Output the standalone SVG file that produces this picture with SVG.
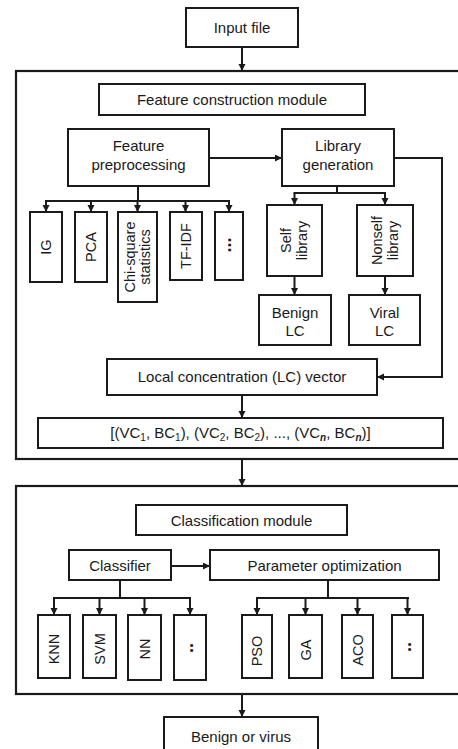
<svg xmlns="http://www.w3.org/2000/svg" width="458" height="749" viewBox="0 0 458 749">
<style>
.b{fill:#fff;stroke:#1a1a1a;stroke-width:2}
.o{fill:none;stroke:#1a1a1a;stroke-width:2.2}
.c{fill:none;stroke:#1a1a1a;stroke-width:2}
text{font-family:"Liberation Sans",Arial,sans-serif;font-size:15px;fill:#1a1a1a;text-anchor:middle}
.r{font-size:14.5px}
.d{font-weight:bold;font-size:18px}
</style>
<defs>
<marker id="ah" markerUnits="userSpaceOnUse" markerWidth="8" markerHeight="8" refX="7" refY="3.5" orient="auto">
<path d="M0,0 L7,3.5 L0,7 z" fill="#1a1a1a"/>
</marker>
</defs>
<rect width="458" height="749" fill="#fff"/>

<g id="module1"><rect class="o" x="16" y="71" width="460" height="388"/></g>
<g id="module2"><rect class="o" x="16" y="486" width="460" height="208"/></g>

<g id="connectors">
<line class="c" x1="242" y1="47" x2="242" y2="71" marker-end="url(#ah)"/>
<line class="c" x1="209" y1="158" x2="282" y2="158" marker-end="url(#ah)"/>
<polyline class="c" points="394,158 442,158 442,377 377,377" marker-end="url(#ah)"/>
<line class="c" x1="138" y1="186" x2="138" y2="201"/>
<line class="c" x1="45" y1="201" x2="230" y2="201"/>
<line class="c" x1="46" y1="201" x2="46" y2="212" marker-end="url(#ah)"/>
<line class="c" x1="91" y1="201" x2="91" y2="212" marker-end="url(#ah)"/>
<line class="c" x1="137.5" y1="201" x2="137.5" y2="212" marker-end="url(#ah)"/>
<line class="c" x1="185.5" y1="201" x2="185.5" y2="212" marker-end="url(#ah)"/>
<line class="c" x1="229" y1="201" x2="229" y2="212" marker-end="url(#ah)"/>
<line class="c" x1="337" y1="186" x2="337" y2="193"/>
<line class="c" x1="293.5" y1="193" x2="386" y2="193"/>
<line class="c" x1="294.5" y1="193" x2="294.5" y2="205" marker-end="url(#ah)"/>
<line class="c" x1="385" y1="193" x2="385" y2="205" marker-end="url(#ah)"/>
<line class="c" x1="294.5" y1="276" x2="294.5" y2="295" marker-end="url(#ah)"/>
<line class="c" x1="385" y1="276" x2="385" y2="295" marker-end="url(#ah)"/>
<line class="c" x1="242" y1="395" x2="242" y2="418" marker-end="url(#ah)"/>
<line class="c" x1="242" y1="459" x2="242" y2="486" marker-end="url(#ah)"/>
<line class="c" x1="171" y1="566" x2="210" y2="566" marker-end="url(#ah)"/>
<line class="c" x1="120" y1="580" x2="120" y2="598"/>
<line class="c" x1="53" y1="598" x2="191" y2="598"/>
<line class="c" x1="54" y1="598" x2="54" y2="615" marker-end="url(#ah)"/>
<line class="c" x1="99.5" y1="598" x2="99.5" y2="615" marker-end="url(#ah)"/>
<line class="c" x1="144.5" y1="598" x2="144.5" y2="615" marker-end="url(#ah)"/>
<line class="c" x1="190" y1="598" x2="190" y2="615" marker-end="url(#ah)"/>
<line class="c" x1="328" y1="580" x2="328" y2="598"/>
<line class="c" x1="256" y1="598" x2="409" y2="598"/>
<line class="c" x1="257" y1="598" x2="257" y2="615" marker-end="url(#ah)"/>
<line class="c" x1="305.5" y1="598" x2="305.5" y2="615" marker-end="url(#ah)"/>
<line class="c" x1="357.5" y1="598" x2="357.5" y2="615" marker-end="url(#ah)"/>
<line class="c" x1="407.5" y1="598" x2="407.5" y2="615" marker-end="url(#ah)"/>
<line class="c" x1="242" y1="694" x2="242" y2="717" marker-end="url(#ah)"/>
</g>

<g id="input"><rect class="b" x="186" y="8" width="112" height="39"/><text x="242" y="33">Input file</text></g>
<g id="fcm"><rect class="b" x="99" y="84" width="266" height="31"/><text x="232" y="105">Feature construction module</text></g>
<g id="fp"><rect class="b" x="68" y="129" width="141" height="57"/><text x="138.5" y="151">Feature</text><text x="138.5" y="170">preprocessing</text></g>
<g id="lg"><rect class="b" x="282" y="129" width="112" height="57"/><text x="338" y="151">Library</text><text x="338" y="170">generation</text></g>

<g id="ig"><rect class="b" x="30" y="212" width="32" height="70"/><text class="r" transform="translate(51,247) rotate(-90)">IG</text></g>
<g id="pca"><rect class="b" x="75" y="212" width="32" height="70"/><text class="r" transform="translate(96,247) rotate(-90)">PCA</text></g>
<g id="chi"><rect class="b" x="118" y="212" width="39" height="90"/><text class="r" transform="translate(134.5,257) rotate(-90)">Chi-square</text><text class="r" transform="translate(150,257) rotate(-90)">statistics</text></g>
<g id="tfidf"><rect class="b" x="170" y="212" width="32" height="68"/><text class="r" transform="translate(191,246) rotate(-90)">TF-IDF</text></g>
<g id="more1"><rect class="b" x="215" y="212" width="28" height="68"/><text class="d" transform="translate(231,245) rotate(-90)">...</text></g>

<g id="self"><rect class="b" x="267" y="205" width="55" height="71"/><text class="r" transform="translate(291,240.5) rotate(-90)">Self</text><text class="r" transform="translate(307,240.5) rotate(-90)">library</text></g>
<g id="nonself"><rect class="b" x="357" y="205" width="56" height="71"/><text class="r" transform="translate(382,240.5) rotate(-90)">Nonself</text><text class="r" transform="translate(398,240.5) rotate(-90)">library</text></g>
<g id="benign"><rect class="b" x="259" y="295" width="72" height="50"/><text x="295" y="318">Benign</text><text x="295" y="336">LC</text></g>
<g id="viral"><rect class="b" x="349" y="295" width="71" height="50"/><text x="384.5" y="318">Viral</text><text x="384.5" y="336">LC</text></g>

<g id="lc"><rect class="b" x="107" y="359" width="270" height="36"/><text x="242" y="382">Local concentration (LC) vector</text></g>
<g id="vc"><rect class="b" x="38" y="418" width="405" height="30"/><text x="240.5" y="438">[(VC<tspan font-size="10" dy="3">1</tspan><tspan dy="-3">, BC</tspan><tspan font-size="10" dy="3">1</tspan><tspan dy="-3">), (VC</tspan><tspan font-size="10" dy="3">2</tspan><tspan dy="-3">, BC</tspan><tspan font-size="10" dy="3">2</tspan><tspan dy="-3">), ..., (VC</tspan><tspan font-size="10" dy="3" font-style="italic" font-weight="bold">n</tspan><tspan dy="-3">, BC</tspan><tspan font-size="10" dy="3" font-style="italic" font-weight="bold">n</tspan><tspan dy="-3">)]</tspan></text></g>

<g id="cm"><rect class="b" x="136" y="505" width="211" height="30"/><text x="241.5" y="525.5">Classification module</text></g>
<g id="classifier"><rect class="b" x="69" y="550" width="102" height="30"/><text x="120" y="570.5">Classifier</text></g>
<g id="po"><rect class="b" x="210" y="550" width="229" height="30"/><text x="324.5" y="570.5">Parameter optimization</text></g>

<g id="knn"><rect class="b" x="38" y="615" width="32" height="63"/><text class="r" transform="translate(59,649) rotate(-90)">KNN</text></g>
<g id="svm"><rect class="b" x="83" y="615" width="33" height="63"/><text class="r" transform="translate(104.5,649) rotate(-90)">SVM</text></g>
<g id="nn"><rect class="b" x="128" y="615" width="33" height="65"/><text class="r" transform="translate(149.5,649) rotate(-90)">NN</text></g>
<g id="more2"><rect class="b" x="174" y="615" width="32" height="65"/><text class="d" transform="translate(193,648) rotate(-90)">..</text></g>
<g id="pso"><rect class="b" x="242" y="615" width="30" height="63"/><text class="r" transform="translate(262,651) rotate(-90)">PSO</text></g>
<g id="ga"><rect class="b" x="289" y="615" width="33" height="63"/><text class="r" transform="translate(310.5,650) rotate(-90)">GA</text></g>
<g id="aco"><rect class="b" x="342" y="615" width="31" height="63"/><text class="r" transform="translate(362.5,650) rotate(-90)">ACO</text></g>
<g id="more3"><rect class="b" x="392" y="615" width="31" height="63"/><text class="d" transform="translate(410.5,647) rotate(-90)">..</text></g>

<g id="output"><rect class="b" x="164" y="717" width="154" height="40"/><text x="241" y="742">Benign or virus</text></g>
</svg>
